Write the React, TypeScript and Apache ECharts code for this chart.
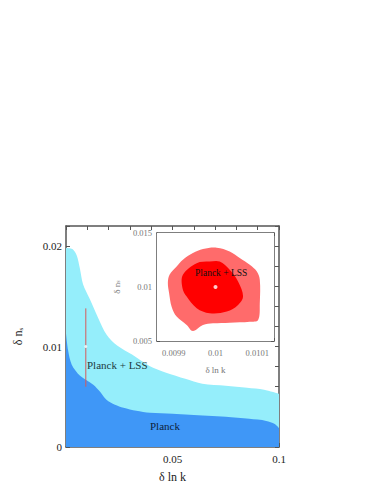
import React, { useEffect, useRef } from "react";
import * as echarts from "echarts";

// Main panel: upper edges of the allowed regions (δ ln k, δ n_s)
const planckLssBand: [number, number][] = [
  [0, 0.0198], [0.003, 0.0197], [0.005, 0.0191], [0.0065, 0.0178], [0.008, 0.0162],
  [0.011, 0.0148], [0.015, 0.0129], [0.019, 0.0112], [0.024, 0.0101], [0.031, 0.0092],
  [0.039, 0.0081], [0.047, 0.0074], [0.056, 0.0068], [0.064, 0.0063], [0.075, 0.0061],
  [0.085, 0.0059], [0.093, 0.0057], [0.1, 0.0053],
];
const planckBand: [number, number][] = [
  [0, 0.0113], [0.001, 0.0096], [0.0027, 0.0082], [0.0066, 0.0071], [0.0128, 0.0062],
  [0.016, 0.0055], [0.019, 0.0047], [0.023, 0.0042], [0.027, 0.0039], [0.033, 0.0036],
  [0.0394, 0.0034], [0.05, 0.0033], [0.058, 0.0032], [0.075, 0.003], [0.086, 0.0028],
  [0.094, 0.0026], [0.098, 0.0023], [0.1, 0.0019],
];
const fiducialX = 0.0093;
const fiducialY = 0.01;
const errorBar: [number, number][] = [[0.0093, 0.0060], [0.0093, 0.0138]];

// Inset: contours
const outerContour: [number, number][] = [
  [0.009946, 0.01314], [0.00997, 0.01351], [0.010003, 0.01364], [0.010034, 0.01329],
  [0.010058, 0.01268], [0.010082, 0.01206], [0.010099, 0.01143], [0.010106, 0.01066],
  [0.010106, 0.0085], [0.010102, 0.00695], [0.010082, 0.00679], [0.010034, 0.0067],
  [0.009994, 0.00664], [0.00997, 0.00649], [0.009946, 0.00593], [0.009931, 0.00649],
  [0.009907, 0.00726], [0.009895, 0.00818], [0.009889, 0.00943], [0.009886, 0.01036],
  [0.00989, 0.01113], [0.009907, 0.0119], [0.009922, 0.01252],
];
const innerContour: [number, number][] = [
  [0.009922, 0.01113], [0.009955, 0.01221], [0.009986, 0.01236], [0.01001, 0.01236],
  [0.010034, 0.01159], [0.010054, 0.01051], [0.010066, 0.00911], [0.010054, 0.00834],
  [0.010027, 0.00772], [0.009986, 0.00757], [0.009955, 0.00804], [0.009931, 0.00911],
  [0.009921, 0.00989],
];
const insetCenter: [number, number] = [0.01, 0.01];

const mainXLabels = [0.05, 0.1];
const mainYLabels = [0, 0.01, 0.02];
const insetXLabels = [0.0099, 0.01, 0.0101];
const insetYLabels = [0.005, 0.01, 0.015];

const SERIF = "Liberation Serif, DejaVu Serif, serif";
const FRAME = "#555555";

function fmt(list: number[]) {
  return (v: number) => {
    for (const l of list) if (Math.abs(v - l) < 1e-9) return String(l);
    return "";
  };
}

export default function App() {
  const ref = useRef<HTMLDivElement>(null);
  useEffect(() => {
    if (!ref.current) return;
    const chart = echarts.init(ref.current, undefined, { renderer: "svg" });
    const axisLine = { show: true, onZero: false, lineStyle: { color: FRAME, width: 1.5 } };
    const tickIn = (len: number) => ({
      show: true, inside: true, length: len, lineStyle: { color: FRAME, width: 1 },
    });
    const polyItem = (pts: [number, number][], color: string) => (params: any, api: any) => ({
      type: "polygon",
      shape: { points: pts.map((p) => api.coord(p)), smooth: 0.35 },
      style: { fill: color },
    });
    chart.setOption({
      animation: false,
      backgroundColor: "#ffffff",
      grid: [
        { left: 66, top: 226, width: 213, height: 223 },
        { left: 157, top: 233, width: 117, height: 108, show: true, backgroundColor: "#ffffff", borderWidth: 0, z: 5 },
      ],
      xAxis: [
        {
          type: "value", gridIndex: 0, min: 0, max: 0.1, interval: 0.01, position: "bottom",
          axisLine, axisTick: tickIn(4), splitLine: { show: false },
          axisLabel: { formatter: fmt(mainXLabels), color: "#222", fontFamily: SERIF, fontSize: 11, margin: 6, showMinLabel: true, showMaxLabel: true },
          name: "δ ln k", nameLocation: "middle", nameGap: 24,
          nameTextStyle: { color: "#222", fontFamily: SERIF, fontSize: 12 },
        },
        {
          type: "value", gridIndex: 0, min: 0, max: 0.1, interval: 0.01, position: "top",
          axisLine, axisTick: tickIn(4), splitLine: { show: false }, axisLabel: { show: false },
        },
        {
          type: "value", gridIndex: 1, min: 0.00986, max: 0.01014, interval: 0.00002, position: "bottom",
          axisLine, axisTick: tickIn(3), splitLine: { show: false },
          axisLabel: { formatter: fmt(insetXLabels), color: "#777", fontFamily: SERIF, fontSize: 8.5, margin: 7 },
          name: "δ ln k", nameLocation: "middle", nameGap: 24,
          nameTextStyle: { color: "#777", fontFamily: SERIF, fontSize: 9 },
        },
        {
          type: "value", gridIndex: 1, min: 0.00986, max: 0.01014, interval: 0.00002, position: "top",
          axisLine, axisTick: tickIn(3), splitLine: { show: false }, axisLabel: { show: false },
        },
      ],
      yAxis: [
        {
          type: "value", gridIndex: 0, min: 0, max: 0.022, interval: 0.002, position: "left",
          axisLine, axisTick: tickIn(4), splitLine: { show: false },
          axisLabel: { formatter: fmt(mainYLabels), color: "#222", fontFamily: SERIF, fontSize: 11, margin: 4 },
          name: "{a|δ n}{b|s}", nameLocation: "middle", nameGap: 42, nameRotate: 90,
          nameTextStyle: {
            color: "#222", fontFamily: SERIF, fontSize: 12,
            rich: {
              a: { fontFamily: SERIF, fontSize: 12, color: "#222" },
              b: { fontFamily: SERIF, fontSize: 7, color: "#222", verticalAlign: "bottom", padding: [4, 0, 0, 0] },
            },
          },
        },
        {
          type: "value", gridIndex: 0, min: 0, max: 0.022, interval: 0.002, position: "right",
          axisLine, axisTick: tickIn(4), splitLine: { show: false }, axisLabel: { show: false },
        },
        {
          type: "value", gridIndex: 1, min: 0.005, max: 0.015, interval: 0.001, position: "left",
          axisLine, axisTick: tickIn(3), splitLine: { show: false },
          axisLabel: { formatter: fmt(insetYLabels), color: "#777", fontFamily: SERIF, fontSize: 8.5, margin: 5 },
          name: "{a|δ n}{b|s}", nameLocation: "middle", nameGap: 36, nameRotate: 90,
          nameTextStyle: {
            color: "#777", fontFamily: SERIF, fontSize: 9,
            rich: {
              a: { fontFamily: SERIF, fontSize: 9, color: "#777" },
              b: { fontFamily: SERIF, fontSize: 6, color: "#777", verticalAlign: "bottom", padding: [3, 0, 0, 0] },
            },
          },
        },
        {
          type: "value", gridIndex: 1, min: 0.005, max: 0.015, interval: 0.001, position: "right",
          axisLine, axisTick: tickIn(3), splitLine: { show: false }, axisLabel: { show: false },
        },
      ],
      series: [
        {
          type: "line", xAxisIndex: 0, yAxisIndex: 0, data: planckLssBand, smooth: 0.3,
          symbol: "none", lineStyle: { width: 0 }, areaStyle: { color: "#95EEFB", opacity: 1 }, z: 1,
        },
        {
          type: "line", xAxisIndex: 0, yAxisIndex: 0, data: planckBand, smooth: 0.3,
          symbol: "none", lineStyle: { width: 0 }, areaStyle: { color: "#3F97F7", opacity: 1 }, z: 2,
        },
        {
          type: "line", xAxisIndex: 0, yAxisIndex: 0, data: errorBar, symbol: "none",
          lineStyle: { color: "#d85a5a", width: 1 }, z: 3,
        },
        {
          type: "scatter", xAxisIndex: 0, yAxisIndex: 0, data: [[fiducialX, fiducialY]],
          symbolSize: 3, itemStyle: { color: "#ffffff" }, z: 4,
        },
        {
          type: "custom", coordinateSystem: "cartesian2d", xAxisIndex: 2, yAxisIndex: 2,
          data: [insetCenter], renderItem: polyItem(outerContour, "#FF6B6B"), z: 6,
        },
        {
          type: "custom", coordinateSystem: "cartesian2d", xAxisIndex: 2, yAxisIndex: 2,
          data: [insetCenter], renderItem: polyItem(innerContour, "#FF0000"), z: 7,
        },
        {
          type: "scatter", xAxisIndex: 2, yAxisIndex: 2, data: [insetCenter],
          symbolSize: 4, itemStyle: { color: "#ffffff" }, z: 8,
        },
      ],
      graphic: [
        {
          type: "text", left: 87, top: 359, z: 10,
          style: { text: "Planck + LSS", fill: "#1d3b3e", font: `11px ${SERIF}` },
        },
        {
          type: "text", left: 150, top: 420, z: 10,
          style: { text: "Planck", fill: "#0d1f3a", font: `11px ${SERIF}` },
        },
        {
          type: "text", left: 195, top: 268, z: 10,
          style: { text: "Planck + LSS", fill: "#111", font: `9.5px ${SERIF}` },
        },
      ],
    });
    return () => chart.dispose();
  }, []);
  return (
    <div
      ref={ref}
      style={{ position: "fixed", left: 0, top: 0, width: 374, height: 484 }}
    />
  );
}
